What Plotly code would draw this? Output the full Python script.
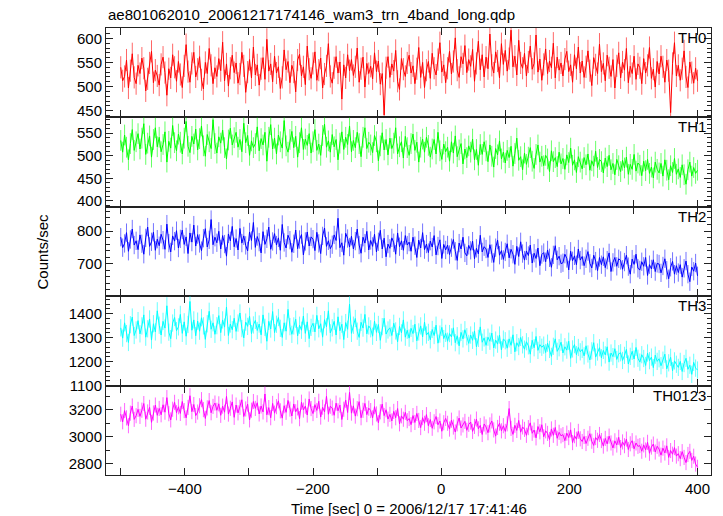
import plotly.graph_objects as go

title_text = "ae801062010_20061217174146_wam3_trn_4band_long.qdp"
x_title = "Time [sec] 0 = 2006/12/17 17:41:46"
y_title = "Counts/sec"
band_names = ["TH0", "TH1", "TH2", "TH3", "TH0123"]
band_colors = ["#ff0000", "#00ff00", "#0000ff", "#00ffff", "#ff00ff"]

# time bins (sec), one every 3 s from -500 to 400
time_sec = list(range(-500, 401, 3))

th0 = [
    540, 512, 521, 555, 497, 533, 568, 519, 506, 544,
    527, 559, 538, 491, 516, 549, 573, 508, 534, 522,
    503, 546, 561, 529, 482, 537, 518, 566, 540, 511,
    552, 525, 498, 543, 587, 531, 509, 548, 571, 520,
    536, 562, 514, 495, 550, 527, 579, 544, 506, 539,
    521, 558, 533, 592, 512, 547, 501, 538, 565, 529,
    549, 507, 526, 571, 543, 488, 530, 556, 518, 582,
    524, 545, 503, 537, 560, 515, 598, 532, 547, 510,
    563, 528, 541, 496, 519, 576, 535, 552, 508, 544,
    530, 489, 555, 567, 522, 541, 504, 584, 536, 517,
    548, 572, 513, 534, 559, 497, 526, 543, 589, 521,
    507, 539, 562, 528, 551, 474, 545, 518, 566, 533,
    556, 523, 541, 580, 509, 537, 561, 499, 548, 527,
    542, 516, 570, 531, 553, 505, 527, 441, 539, 562,
    519, 547, 532, 575, 511, 494, 558, 536, 521, 549,
    565, 528, 543, 506, 537, 581, 519, 550, 498, 534,
    552, 517, 569, 538, 524, 556, 591, 530, 545, 508,
    538, 573, 526, 552, 601, 534, 519, 562, 547, 585,
    529, 556, 542, 577, 511, 548, 594, 535, 566, 520,
    561, 537, 609, 544, 528, 572, 553, 518, 589, 546,
    575, 532, 558, 617, 541, 563, 524, 596, 549, 538,
    569, 522, 551, 584, 536, 548, 607, 530, 557, 513,
    546, 578, 527, 553, 539, 590, 518, 561, 534, 549,
    522, 557, 573, 531, 545, 509, 566, 537, 582, 528,
    553, 519, 541, 574, 533, 502, 560, 545, 527, 588,
    531, 548, 512, 565, 539, 521, 556, 497, 543, 570,
    518, 551, 534, 579, 508, 542, 527, 563, 515, 547,
    539, 506, 558, 528, 544, 581, 517, 536, 499, 552,
    526, 563, 541, 509, 555, 533, 446, 548, 591, 522,
    544, 513, 537, 574, 520, 498, 551, 529, 507, 538,
    512,
]

th1 = [
    534, 508, 546, 519, 491, 527, 558, 512, 531, 549,
    515, 539, 571, 503, 528, 544, 497, 536, 562, 520,
    541, 509, 525, 553, 486, 532, 517, 567, 529, 511,
    548, 530, 504, 539, 576, 521, 507, 543, 526, 559,
    513, 538, 566, 522, 499, 547, 531, 516, 580, 527,
    506, 542, 528, 557, 518, 493, 535, 561, 524, 540,
    552, 519, 536, 509, 572, 529, 545, 501, 533, 518,
    527, 564, 511, 538, 524, 552, 488, 541, 569, 515,
    539, 504, 546, 531, 517, 578, 522, 508, 536, 554,
    518, 543, 497, 529, 562, 514, 537, 523, 549, 506,
    531, 558, 512, 526, 501, 545, 570, 519, 533, 508,
    547, 520, 536, 491, 528, 553, 514, 541, 525, 566,
    509, 534, 518, 552, 527, 498, 541, 562, 516, 530,
    524, 507, 545, 531, 489, 522, 551, 513, 536, 502,
    539, 516, 528, 562, 504, 520, 531, 495, 543, 518,
    501, 527, 548, 512, 530, 486, 519, 537, 508, 541,
    523, 497, 515, 536, 504, 552, 511, 492, 526, 509,
    519, 488, 531, 506, 544, 498, 513, 527, 482, 515,
    496, 522, 508, 537, 491, 514, 479, 525, 503, 531,
    511, 487, 524, 499, 475, 516, 502, 533, 493, 508,
    484, 512, 496, 521, 477, 505, 539, 490, 498, 469,
    506, 481, 497, 518, 488, 472, 503, 524, 486, 499,
    478, 501, 493, 465, 511, 487, 496, 476, 508, 482,
    494, 470, 502, 485, 517, 479, 491, 463, 498, 486,
    471, 496, 480, 504, 468, 489, 477, 510, 474, 492,
    487, 462, 495, 476, 501, 469, 483, 458, 492, 478,
    465, 490, 473, 497, 459, 481, 470, 503, 466, 484,
    479, 456, 488, 467, 492, 461, 475, 451, 486, 470,
    462, 483, 455, 491, 468, 447, 478, 463, 494, 459,
    471, 452, 480, 458, 437, 469, 486, 455, 474, 461,
    468,
]

th2 = [
    781, 749, 762, 795, 738, 774, 806, 757, 770, 743,
    788, 761, 729, 779, 812, 753, 767, 796, 741, 775,
    755, 790, 772, 744, 821, 763, 736, 785, 769, 801,
    748, 776, 803, 759, 782, 731, 794, 766, 818, 754,
    789, 762, 740, 778, 807, 751, 773, 835, 758, 781,
    764, 799, 745, 786, 760, 723, 791, 770, 814, 752,
    777, 742, 808, 763, 785, 756, 739, 797, 771, 826,
    750, 783, 766, 733, 798, 759, 776, 812, 744, 768,
    792, 757, 779, 741, 820, 765, 748, 787, 772, 735,
    761, 803, 746, 774, 789, 727, 768, 797, 754, 782,
    775, 740, 796, 762, 731, 785, 809, 753, 770, 746,
    758, 788, 771, 839, 749, 764, 726, 793, 777, 751,
    784, 745, 769, 806, 757, 732, 781, 763, 799, 742,
    771, 753, 790, 736, 767, 802, 745, 778, 721, 760,
    747, 779, 764, 729, 794, 752, 770, 741, 786, 757,
    766, 738, 781, 755, 719, 772, 748, 795, 743, 760,
    734, 769, 751, 786, 727, 754, 773, 716, 759, 742,
    757, 728, 749, 774, 738, 710, 763, 745, 781, 733,
    724, 756, 741, 769, 715, 747, 730, 787, 736, 752,
    745, 719, 758, 731, 704, 749, 772, 726, 740, 713,
    736, 761, 718, 744, 729, 698, 753, 722, 767, 731,
    711, 739, 725, 757, 702, 732, 716, 748, 694, 728,
    734, 706, 742, 718, 689, 727, 755, 712, 723, 700,
    703, 729, 716, 681, 738, 709, 724, 697, 745, 711,
    722, 694, 715, 737, 701, 687, 726, 708, 679, 719,
    697, 721, 688, 711, 733, 676, 704, 719, 692, 715,
    710, 683, 705, 726, 691, 668, 714, 698, 729, 686,
    681, 706, 692, 719, 664, 697, 684, 712, 676, 701,
    699, 672, 693, 715, 680, 654, 689, 707, 668, 694,
    673, 697, 659, 686, 708, 668, 645, 690, 677, 702,
    663,
]

th3 = [
    1341, 1298, 1362, 1317, 1280, 1354, 1386, 1309, 1332, 1371,
    1316, 1349, 1395, 1302, 1337, 1378, 1290, 1358, 1324, 1412,
    1352, 1311, 1368, 1340, 1433, 1323, 1296, 1361, 1384, 1329,
    1345, 1397, 1318, 1366, 1306, 1355, 1451, 1331, 1374, 1308,
    1369, 1327, 1383, 1349, 1293, 1358, 1410, 1335, 1362, 1314,
    1350, 1392, 1321, 1374, 1344, 1428, 1309, 1357, 1333, 1381,
    1326, 1361, 1403, 1338, 1299, 1365, 1347, 1389, 1317, 1353,
    1372, 1330, 1357, 1312, 1395, 1343, 1285, 1368, 1336, 1409,
    1321, 1356, 1384, 1339, 1301, 1362, 1327, 1418, 1346, 1314,
    1349, 1377, 1308, 1352, 1331, 1390, 1318, 1366, 1296, 1343,
    1360, 1324, 1393, 1337, 1358, 1302, 1375, 1345, 1412, 1320,
    1341, 1368, 1311, 1387, 1329, 1356, 1292, 1363, 1335, 1440,
    1318, 1352, 1380, 1327, 1301, 1364, 1340, 1397, 1316, 1349,
    1337, 1306, 1369, 1322, 1355, 1289, 1346, 1381, 1315, 1332,
    1341, 1309, 1360, 1328, 1283, 1347, 1320, 1374, 1302, 1331,
    1298, 1339, 1317, 1356, 1287, 1324, 1349, 1303, 1365, 1311,
    1322, 1291, 1334, 1309, 1352, 1277, 1315, 1343, 1296, 1318,
    1285, 1317, 1303, 1341, 1279, 1308, 1266, 1322, 1295, 1333,
    1304, 1276, 1311, 1289, 1328, 1262, 1297, 1345, 1281, 1299,
    1268, 1302, 1285, 1319, 1257, 1290, 1273, 1311, 1249, 1294,
    1287, 1256, 1295, 1268, 1312, 1241, 1279, 1263, 1301, 1270,
    1252, 1283, 1266, 1231, 1289, 1258, 1305, 1247, 1271, 1260,
    1269, 1238, 1277, 1251, 1222, 1264, 1295, 1243, 1258, 1281,
    1236, 1262, 1248, 1285, 1214, 1253, 1271, 1229, 1259, 1241,
    1251, 1224, 1266, 1232, 1207, 1245, 1279, 1219, 1240, 1258,
    1216, 1247, 1228, 1262, 1198, 1236, 1221, 1254, 1209, 1233,
    1237, 1205, 1226, 1251, 1190, 1222, 1243, 1211, 1259, 1214,
    1198, 1229, 1213, 1184, 1236, 1204, 1219, 1175, 1227, 1201,
    1212, 1183, 1206, 1231, 1170, 1195, 1218, 1162, 1203, 1189,
    1176, 1201, 1159, 1192, 1214, 1168, 1185, 1147, 1197, 1173,
    1165,
]

th0123 = [
    3168, 3112, 3195, 3141, 3083, 3176, 3229, 3130, 3157, 3204,
    3152, 3198, 3247, 3131, 3185, 3219, 3108, 3177, 3236, 3160,
    3211, 3164, 3238, 3183, 3291, 3172, 3126, 3205, 3256, 3179,
    3223, 3174, 3262, 3195, 3141, 3218, 3305, 3187, 3240, 3158,
    3184, 3231, 3276, 3202, 3137, 3215, 3269, 3179, 3226, 3251,
    3197, 3245, 3160, 3228, 3183, 3300, 3169, 3212, 3259, 3145,
    3236, 3178, 3219, 3275, 3151, 3207, 3243, 3126, 3198, 3262,
    3211, 3253, 3170, 3229, 3185, 3318, 3164, 3217, 3142, 3248,
    3176, 3224, 3267, 3193, 3139, 3231, 3182, 3270, 3206, 3155,
    3244, 3186, 3215, 3135, 3257, 3199, 3228, 3162, 3281, 3210,
    3173, 3239, 3196, 3264, 3147, 3220, 3185, 3301, 3168, 3227,
    3214, 3160, 3250, 3193, 3236, 3129, 3205, 3272, 3181, 3330,
    3176, 3230, 3154, 3209, 3261, 3142, 3197, 3248, 3165, 3213,
    3195, 3141, 3224, 3170, 3105, 3186, 3243, 3158, 3201, 3132,
    3167, 3118, 3189, 3142, 3210, 3097, 3156, 3131, 3182, 3120,
    3136, 3091, 3158, 3107, 3174, 3122, 3069, 3143, 3101, 3165,
    3083, 3129, 3064, 3112, 3151, 3090, 3118, 3042, 3105, 3137,
    3101, 3058, 3124, 3073, 3036, 3097, 3140, 3066, 3089, 3115,
    3049, 3093, 3110, 3041, 3078, 3132, 3060, 3085, 3018, 3096,
    3074, 3031, 3089, 3118, 3052, 3006, 3070, 3101, 3045, 3083,
    3041, 3097, 3210, 3063, 3019, 3086, 3048, 3122, 3035, 3074,
    3056, 3012, 3069, 3104, 3027, 3051, 2993, 3077, 3038, 3090,
    3001, 3045, 3026, 2981, 3059, 3012, 3070, 2990, 3034, 3008,
    3017, 2972, 3028, 2995, 3052, 2958, 3009, 2983, 3041, 2986,
    2966, 3003, 2951, 2990, 3024, 2968, 2937, 2995, 2975, 3018,
    2973, 2932, 2989, 2948, 3006, 2955, 2918, 2971, 2940, 2997,
    2921, 2963, 2935, 2984, 2907, 2949, 2972, 2912, 2955, 2930,
    2936, 2894, 2941, 2903, 2960, 2879, 2925, 2947, 2888, 2931,
    2910, 2865, 2917, 2881, 2934, 2848, 2899, 2872, 2921, 2858,
    2876, 2839, 2891, 2848, 2810, 2870, 2893, 2826, 2857, 2799,
    2775,
]

# approximate 1-sigma error per band (counts/sec, 1 s bins)
band_errors = [23, 23, 28, 36, 56]
band_values = [th0, th1, th2, th3, th0123]

# axis settings per panel
y_ranges = [[436, 621.5], [387, 585], [600.6, 874], [1100, 1473], [2718, 3380]]
y_dticks = [50, 50, 100, 100, 200]
y_minor = [10, 10, 20, 20, 100]
x_range = [-523, 421]
x_tickvals = [-500, -400, -300, -200, -100, 0, 100, 200, 300, 400]
x_ticktext = ["", "\u2212400", "", "\u2212200", "", "0", "", "200", "", "400"]

light = ["rgba(255,0,0,0.6)", "rgba(0,255,0,0.6)", "rgba(0,0,255,0.55)",
         "rgba(0,255,255,0.6)", "rgba(255,0,255,0.6)"]

FONT = "Liberation Sans, Arial, Helvetica, sans-serif"
AX = "#222"
fig = go.Figure()
n = len(band_values)
annotations = []
for i in range(n):
    xa = "x" if i == 0 else f"x{i+1}"
    ya = "y" if i == 0 else f"y{i+1}"
    fig.add_trace(go.Scatter(
        x=time_sec, y=band_values[i], mode="lines",
        line=dict(color=band_colors[i], width=1),
        error_y=dict(type="constant", value=band_errors[i], color=light[i],
                     thickness=1, width=0),
        xaxis=xa, yaxis=ya, showlegend=False, hoverinfo="skip"))
    top = 1 - i / n
    bot = 1 - (i + 1) / n
    last = (i == n - 1)
    xkey = "xaxis" if i == 0 else f"xaxis{i+1}"
    ykey = "yaxis" if i == 0 else f"yaxis{i+1}"
    fig.update_layout(**{
        xkey: dict(domain=[0, 1], anchor=ya, range=x_range,
                   tickmode="array", tickvals=x_tickvals,
                   ticktext=x_ticktext if last else [""] * len(x_tickvals),
                   ticks="inside", ticklen=7, tickwidth=1, tickcolor=AX,
                   showline=True, linecolor=AX, linewidth=1, mirror="allticks",
                   showgrid=False, zeroline=False,
                   tickfont=dict(size=15, color="black", family=FONT),
                   matches=None if i == 0 else "x"),
        ykey: dict(domain=[bot, top], anchor=xa, range=y_ranges[i],
                   dtick=y_dticks[i], tick0=0,
                   ticks="inside", ticklen=7, tickwidth=1, tickcolor=AX,
                   minor=dict(dtick=y_minor[i], tick0=0, ticks="inside", ticklen=4,
                              tickcolor=AX, tickwidth=1),
                   showline=True, linecolor=AX, linewidth=1, mirror="allticks",
                   showgrid=False, zeroline=False,
                   tickfont=dict(size=15, color="black", family=FONT)),
    })
    annotations.append(dict(text=band_names[i], xref=f"{xa} domain", yref=f"{ya} domain",
                            x=1, y=1, xanchor="right", yanchor="top", xshift=-3, yshift=1,
                            showarrow=False, font=dict(size=15, color="black", family=FONT)))

annotations.append(dict(text=title_text, xref="paper", yref="paper", x=0, y=1,
                        xanchor="left", yanchor="bottom", xshift=0, yshift=3,
                        showarrow=False, font=dict(size=15, color="black", family=FONT)))
annotations.append(dict(text=x_title, xref="paper", yref="paper", x=0.5, y=0,
                        xanchor="center", yanchor="top", yshift=-23,
                        showarrow=False, font=dict(size=15, color="black", family=FONT)))
annotations.append(dict(text=y_title, xref="paper", yref="paper", x=0, y=0.5,
                        xanchor="center", yanchor="middle", xshift=-64, textangle=-90,
                        showarrow=False, font=dict(size=15, color="black", family=FONT)))

fig.update_layout(width=723, height=516,
                  margin=dict(l=106, r=12, t=28, b=41),
                  paper_bgcolor="white", plot_bgcolor="white",
                  annotations=annotations, showlegend=False)

fig.write_html("out.html", config={"displayModeBar": False},
               post_script="document.body.style.margin='0px';document.body.style.overflow='hidden';")
